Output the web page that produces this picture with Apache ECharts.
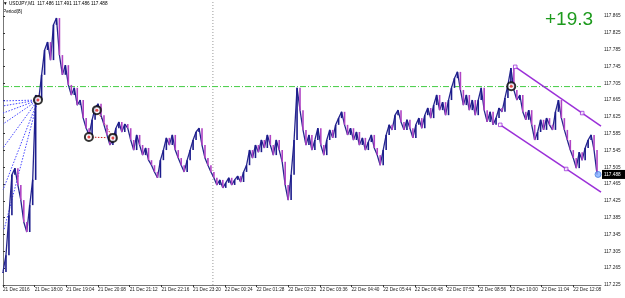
<!DOCTYPE html>
<html><head><meta charset="utf-8">
<script src="https://cdn.jsdelivr.net/npm/echarts@6/dist/echarts.min.js"></script>
<style>html,body{margin:0;padding:0;background:#fff}#c{width:625px;height:298px}</style>
</head><body><div id="c"></div>
<script>
// minutes since 21 Dec 16:56, one sample every 6 minutes
const stepMinutes = 6;
const closes = [
117.256,117.296,117.391,117.487,117.503,117.463,117.427,117.375,117.351,117.415,
117.475,117.677,117.665,117.725,117.784,117.803,117.760,117.844,117.860,117.772,
117.725,117.748,117.701,117.677,117.694,117.653,117.665,117.622,117.598,117.582,
117.618,117.646,117.656,117.629,117.606,117.582,117.558,117.570,117.598,117.613,
117.589,117.608,117.598,117.570,117.546,117.582,117.558,117.534,117.551,117.522,
117.510,117.494,117.480,117.522,117.546,117.575,117.558,117.582,117.546,117.527,
117.510,117.494,117.522,117.546,117.570,117.589,117.598,117.558,117.527,117.510,
117.494,117.480,117.463,117.475,117.456,117.468,117.480,117.463,117.475,117.484,
117.470,117.494,117.510,117.546,117.527,117.558,117.541,117.570,117.551,117.582,
117.558,117.534,117.570,117.546,117.518,117.463,117.427,117.487,117.570,117.694,
117.641,117.594,117.558,117.582,117.546,117.570,117.598,117.558,117.534,117.570,
117.594,117.575,117.606,117.622,117.637,117.606,117.582,117.598,117.570,117.589,
117.558,117.575,117.546,117.565,117.582,117.551,117.534,117.510,117.546,117.582,
117.606,117.594,117.629,117.641,117.613,117.594,117.618,117.598,117.575,117.606,
117.622,117.598,117.629,117.646,117.622,117.653,117.677,117.641,117.660,117.629,
117.665,117.694,117.717,117.732,117.689,117.653,117.677,117.641,117.665,117.629,
117.665,117.694,117.641,117.613,117.637,117.606,117.622,117.646,117.637,117.670,
117.701,117.741,117.689,117.665,117.677,117.637,117.618,117.641,117.606,117.570,
117.589,117.618,117.594,117.622,117.606,117.594,117.637,117.665,117.622,117.594,
117.570,117.546,117.527,117.503,117.541,117.522,117.551,117.570,117.582,117.546,
117.488
];
const timeLabels = ['21 Dec 2016','21 Dec 18:00','21 Dec 19:04','21 Dec 20:08','21 Dec 21:12','21 Dec 22:16','21 Dec 23:20','22 Dec 00:24','22 Dec 01:28','22 Dec 02:32','22 Dec 03:36','22 Dec 04:40','22 Dec 05:44','22 Dec 06:48','22 Dec 07:52','22 Dec 08:56','22 Dec 10:00','22 Dec 11:04','22 Dec 12:08'];
const xLabelStep = 64;
const xMax = 1208;
const yTickStart = 117.225, yTickStep = 0.04, yMax = 117.903;
const hLinePrice = 117.697;
const separatorTime = 424;
const fanOrigin = [70.6, 117.665];
const fanEnds = [[0,117.663],[0,117.651],[0,117.634],[0,117.608],[0,117.551],[0,117.451],[2,117.356]];
const abcPoints = [[70.6,117.665],[173.5,117.577],[189.6,117.641],[221.9,117.575],[1026.7,117.698]];
const redLines = [[[173.5,117.577],[221.9,117.575]],[[189.6,117.641],[221.9,117.575]]];
const channelTop = [[1034.7,117.744],[1208,117.603]];
const channelBottom = [[1004.5,117.606],[1208,117.446]];
const channelMarks = [[1034.7,117.744],[1004.5,117.606],[1170,117.634],[1137.6,117.501]];
const lastPoint = [1202, 117.488];
const lastPriceText = '117.488';
const headerText = '\u25BC USDJPY,M1  117.486 117.491 117.486 117.488';
const subHeader = 'Period(8)';
const profitText = '+19.3';

const candles = closes.map((c,i)=>[i*stepMinutes, i===0?c:closes[i-1], c]);
const closeLine = closes.map((c,i)=>[i*stepMinutes, c]);
const FF = '"Liberation Sans", Arial, sans-serif';

const chart = echarts.init(document.getElementById('c'), null, {renderer:'canvas'});
const series = [];
series.push({type:'line', data:closeLine, symbol:'none', silent:true, z:3,
  lineStyle:{color:'#26268f', width:1.3}});
series.push({
  type:'custom', data: candles, z:4,
  renderItem(params, api){
    const t=api.value(0), o=api.value(1), c=api.value(2);
    const p1=api.coord([t,o]), p2=api.coord([t,c]);
    const w=1.6;
    const top=Math.min(p1[1],p2[1]);
    const h=Math.max(1,Math.abs(p1[1]-p2[1]));
    return {type:'rect', shape:{x:p1[0]-w/2,y:top,width:w,height:h}, style:{fill: c>=o?'#1c1c8c':'#b044c4'}};
  }
});
series.push({type:'line', data:[[separatorTime,yTickStart],[separatorTime,yMax]], symbol:'none', silent:true, z:1,
  lineStyle:{color:'#999', width:1, type:[1,2]}});
series.push({type:'line', data:[[0,hLinePrice],[xMax,hLinePrice]], symbol:'none', silent:true, z:2,
  lineStyle:{color:'#44cc44', width:1, type:[6,2,1,2]}});
fanEnds.forEach(e=>series.push({type:'line', data:[fanOrigin,e], symbol:'none', silent:true, z:2,
  lineStyle:{color:'#4646ff', width:1, type:[1.5,1.5]}}));
redLines.forEach(l=>series.push({type:'line', data:l, symbol:'none', silent:true, z:2,
  lineStyle:{color:'#cc2020', width:1, type:[1.5,1.5]}}));
[channelTop, channelBottom].forEach(l=>series.push({type:'line', data:l, symbol:'none', silent:true, z:5,
  lineStyle:{color:'#9b30d8', width:1.5}}));
series.push({type:'scatter', data:channelMarks, symbol:'rect', symbolSize:3.5, z:6, silent:true,
  itemStyle:{color:'#fff', borderColor:'#9b30d8', borderWidth:1}});
series.push({type:'scatter', data:abcPoints, symbol:'circle', symbolSize:8, z:7, silent:true,
  itemStyle:{color:'#fff', borderColor:'#000', borderWidth:2}});
series.push({type:'scatter', data:abcPoints, symbol:'circle', symbolSize:3, z:8, silent:true,
  itemStyle:{color:'#e02020'}});
series.push({type:'scatter', data:[lastPoint], symbol:'circle', symbolSize:6, z:8, silent:true,
  itemStyle:{color:'#7fb0ff', borderColor:'#4a7fe0', borderWidth:1}});

chart.setOption({
  animation:false,
  backgroundColor:'#fff',
  grid:{left:2, right:24, top:0, bottom:13},
  xAxis:{type:'value', min:0, max:xMax, interval:xLabelStep,
    axisLine:{show:true, lineStyle:{color:'#777', width:1}},
    axisTick:{show:true, length:2, lineStyle:{color:'#333'}},
    splitLine:{show:false},
    axisLabel:{showMaxLabel:false, margin:2, fontSize:4.7, color:'#222', fontFamily:FF, align:'left',
      formatter:v=>timeLabels[Math.round(v/xLabelStep)]||''}},
  yAxis:{type:'value', position:'right', min:yTickStart, max:yMax, interval:yTickStep,
    axisLine:{show:true, lineStyle:{color:'#777', width:1}},
    axisTick:{show:true, length:2, inside:false, lineStyle:{color:'#333'}},
    splitLine:{show:false},
    axisLabel:{showMaxLabel:false, margin:3, fontSize:4.7, color:'#222', fontFamily:FF,
      formatter:v=>v.toFixed(3)}},
  series
});

const py = chart.convertToPixel({gridIndex:0}, [0, lastPoint[1]])[1];
chart.setOption({graphic:[
  {type:'text', left:3, top:1, style:{text:headerText, fontSize:4.7, fill:'#000', fontFamily:FF}},
  {type:'text', left:3, top:9, style:{text:subHeader, fontSize:4.7, fill:'#000', fontFamily:FF}},
  {type:'text', left:545, top:10, style:{text:profitText, fontSize:19, fill:'#1d9a1d', fontFamily:FF}},
  {type:'rect', shape:{x:602, y:py-4.5, width:23, height:9}, style:{fill:'#000'}, z:100},
  {type:'text', x:604, y:py-2.6, style:{text:lastPriceText, fontSize:4.7, fill:'#fff', fontFamily:FF}, z:101}
]});
</script></body></html>
